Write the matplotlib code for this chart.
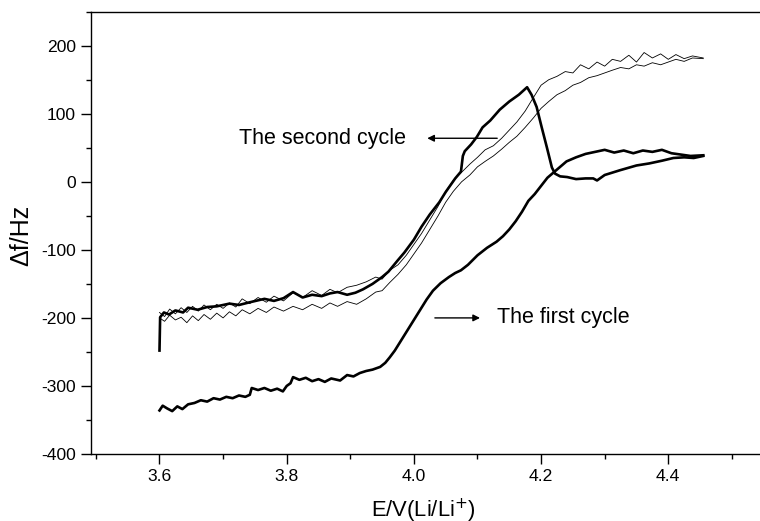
import numpy as np
import matplotlib
matplotlib.use("Agg")
import matplotlib.pyplot as plt
from matplotlib.ticker import MultipleLocator

plt.rcParams['font.family'] = ['Liberation Sans', 'DejaVu Sans']
plt.rcParams['axes.unicode_minus'] = False

# first cycle, anodic scan (thick)
c1_fwd_x = [3.600, 3.605, 3.612, 3.620, 3.628, 3.636, 3.645, 3.655, 3.665, 3.675, 3.685,
            3.695, 3.705, 3.715, 3.725, 3.735, 3.742, 3.745, 3.755, 3.765, 3.775, 3.785,
            3.794, 3.800, 3.806, 3.810, 3.820, 3.830, 3.840, 3.850, 3.860, 3.870, 3.884,
            3.895, 3.905, 3.915, 3.925, 3.935, 3.947, 3.955, 3.962, 3.970, 3.980, 3.990,
            4.000, 4.010, 4.020, 4.030, 4.042, 4.055, 4.065, 4.074, 4.085, 4.100, 4.115,
            4.130, 4.140, 4.150, 4.160, 4.170, 4.180, 4.190, 4.200, 4.210, 4.220, 4.230,
            4.240, 4.255, 4.270, 4.285, 4.300, 4.315, 4.330, 4.345, 4.360, 4.375, 4.390,
            4.405, 4.420, 4.435, 4.455]
c1_fwd_y = [-336, -329, -333, -337, -330, -334, -327, -325, -321, -323, -318,
            -320, -316, -318, -314, -316, -313, -303, -306, -303, -307, -304,
            -308, -300, -296, -287, -291, -288, -293, -290, -294, -289, -292,
            -284, -286, -281, -278, -276, -272, -266, -258, -248, -233, -218,
            -203, -188, -173, -160, -149, -140, -134, -130, -122, -108, -97,
            -88, -80, -70, -58, -44, -28, -18, -6, 6, 14, 22,
            30, 36, 41, 44, 47, 43, 46, 42, 46, 44, 47,
            42, 40, 38, 39]

# first cycle, cathodic scan (thick)
c1_rev_x = [4.455, 4.440, 4.425, 4.408, 4.390, 4.370, 4.350, 4.324, 4.300, 4.288, 4.282,
            4.270, 4.255, 4.241, 4.230, 4.222, 4.217, 4.209, 4.201, 4.193, 4.185, 4.178,
            4.165, 4.150, 4.135, 4.120, 4.108, 4.099, 4.090, 4.080, 4.077, 4.074, 4.065,
            4.050, 4.040, 4.025, 4.012, 4.000, 3.985, 3.975, 3.960, 3.950, 3.935, 3.920,
            3.908, 3.895, 3.880, 3.868, 3.855, 3.840, 3.825, 3.810, 3.795, 3.780, 3.765,
            3.742, 3.725, 3.710, 3.690, 3.675, 3.660, 3.645, 3.637, 3.625, 3.615, 3.607,
            3.601, 3.600]
c1_rev_y = [38, 35, 36, 35, 31, 27, 24, 17, 10, 2, 5,
            5, 4, 7, 8, 12, 21, 51, 80, 110, 128, 139,
            128, 118, 106, 90, 80, 66, 55, 45, 38, 15, 5,
            -15, -30, -48, -66, -85, -104, -115, -132, -140, -150, -158,
            -163, -166, -162, -164, -168, -166, -170, -162, -171, -175, -172,
            -177, -181, -179, -183, -184, -188, -185, -192, -189, -195, -192,
            -199, -248]

# second cycle (thin), two branches
c2_x = [3.600, 3.608, 3.616, 3.625, 3.634, 3.643, 3.652, 3.661, 3.670, 3.680, 3.690,
        3.700, 3.710, 3.720, 3.730, 3.742, 3.755, 3.768, 3.780, 3.795, 3.810, 3.825,
        3.840, 3.855, 3.868, 3.880, 3.895, 3.910, 3.925, 3.940, 3.950, 3.962, 3.975,
        3.988, 4.000, 4.012, 4.025, 4.038, 4.050, 4.062, 4.075, 4.088, 4.100, 4.112,
        4.125, 4.138, 4.150, 4.162, 4.175, 4.188, 4.200, 4.212, 4.225, 4.238, 4.250,
        4.262, 4.275, 4.288, 4.300, 4.312, 4.325, 4.338, 4.350, 4.362, 4.375, 4.388,
        4.400, 4.412, 4.425, 4.438, 4.455]
c2_up_y = [-192, -198, -187, -194, -185, -192, -183, -190, -181, -188, -180,
           -186, -178, -184, -172, -179, -170, -177, -168, -175, -163, -170,
           -160, -167, -158, -163, -155, -152, -147, -140, -143, -130, -122,
           -108, -92, -76, -56, -36, -14, 2, 14, 26, 36, 47,
           53, 64, 76, 88, 104, 124, 142, 150, 155, 162, 160,
           172, 166, 176, 170, 180, 177, 186, 176, 190, 182, 188,
           180, 187, 181, 185, 182]
c2_lo_y = [-200, -205, -196, -203, -199, -207, -197, -204, -195, -202, -193,
           -200, -191, -197, -188, -194, -186, -192, -184, -190, -183, -188,
           -180, -186, -178, -183, -176, -180, -172, -162, -160, -148, -136,
           -122, -106, -90, -70, -50, -30, -14, 0, 10, 22, 30,
           38, 48, 58, 67, 80, 94, 108, 118, 128, 134, 142,
           146, 153, 156, 160, 164, 168, 166, 172, 170, 175, 172,
           176, 180, 177, 182, 181]

W, H = 760, 521
fig = plt.figure(figsize=(W / 100, H / 100), dpi=100)
# axes: left spine at px 91, top at 11.7, bottom at 454; right edge runs off the canvas
ax_l, ax_r, ax_t, ax_b = 91, 790, 11.7, 454
ax = fig.add_axes([ax_l / W, 1 - ax_b / H, (ax_r - ax_l) / W, (ax_b - ax_t) / H])

ax.plot(c2_x, c2_up_y, color='black', lw=0.6)
ax.plot(c2_x, c2_lo_y, color='black', lw=0.6)
ax.plot(c1_fwd_x, c1_fwd_y, color='black', lw=1.9)
ax.plot(c1_rev_x, c1_rev_y, color='black', lw=1.9)

ax.set_xlim(3.4923, 4.5914)
ax.set_ylim(-400, 250)
ax.xaxis.set_minor_locator(MultipleLocator(0.1))
ax.yaxis.set_major_locator(MultipleLocator(100))
ax.yaxis.set_minor_locator(MultipleLocator(50))
ax.set_xticks([3.6, 3.8, 4.0, 4.2, 4.4])
ax.set_xticklabels(['3.6', '3.8', '4.0', '4.2', '4.4'])

ax.tick_params(which='major', direction='out', length=7, width=1.0, labelsize=12.6, pad=4)
ax.tick_params(which='minor', direction='out', length=3.5, width=1.0)
ax.tick_params(top=False, right=False, which='both')
for s in ax.spines.values():
    s.set_linewidth(1.0)

ax.set_xlabel('E/V(Li/Li$^{+}$)', fontsize=15.8)
ax.set_ylabel('Δf/Hz', fontsize=18)
axw = ax_r - ax_l
axh = ax_b - ax_t
ax.xaxis.set_label_coords((423 - ax_l) / axw, (ax_b - 497) / axh)
ax.yaxis.set_label_coords((33 - ax_l) / axw, (ax_b - 235) / axh)

# labels with arrows
ax.annotate('', xy=(4.021, 64), xytext=(4.131, 64),
            arrowprops=dict(arrowstyle='-|>', color='black', lw=1.0,
                            mutation_scale=10, shrinkA=0, shrinkB=0))
ax.text(3.988, 64, 'The second cycle', fontsize=15.5, ha='right', va='center')
ax.annotate('', xy=(4.104, -200), xytext=(4.033, -200),
            arrowprops=dict(arrowstyle='-|>', color='black', lw=1.0,
                            mutation_scale=10, shrinkA=0, shrinkB=0))
ax.text(4.131, -200, 'The first cycle', fontsize=15.5, ha='left', va='center')

fig.savefig('out.png', dpi=100)
